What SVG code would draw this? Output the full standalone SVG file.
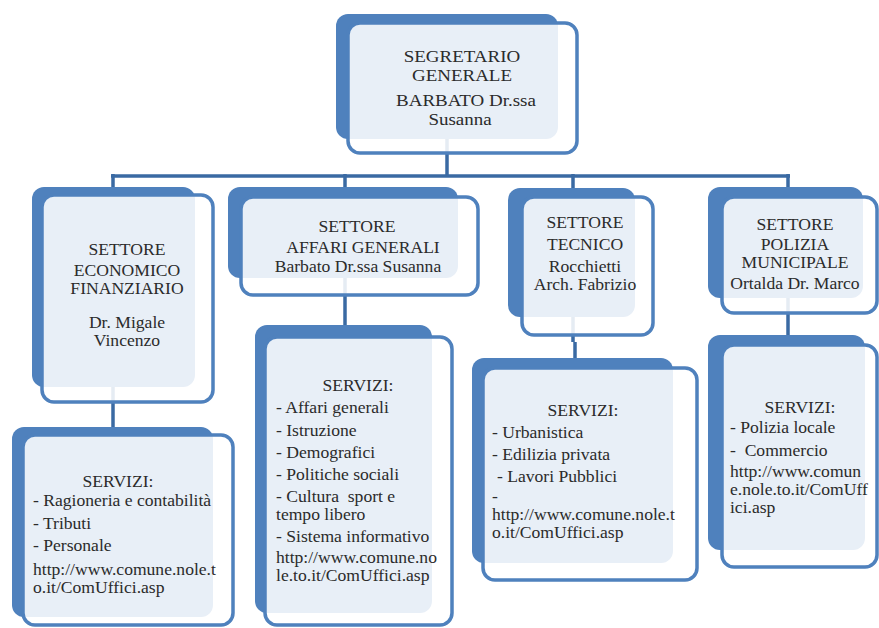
<svg xmlns="http://www.w3.org/2000/svg" width="879" height="628" viewBox="0 0 879 628">
<style>
.back{fill:#4f81bd;}
.front{fill:#ffffff;fill-opacity:0.87;stroke:#4f81bd;stroke-width:3.5;}
.conn{stroke:#3a6aa3;stroke-width:3.5;fill:none;}
text{font-family:"Liberation Serif","Times New Roman",serif;font-size:16px;fill:#2b2b2b;transform-box:fill-box;transform-origin:left center;transform:scaleX(1.1);}
text.c{text-anchor:middle;transform-origin:center;}
text.big{font-size:16.5px;transform:scaleX(1.15);}
</style>
<rect width="879" height="628" fill="#ffffff"/>
<g id="connectors">
<line class="conn" x1="447" y1="130" x2="447" y2="176"/>
<line class="conn" x1="111" y1="176" x2="790" y2="176"/>
<line class="conn" x1="113" y1="174" x2="113" y2="192"/>
<line class="conn" x1="345" y1="174" x2="345" y2="192"/>
<line class="conn" x1="573" y1="174" x2="573" y2="192"/>
<line class="conn" x1="788" y1="174" x2="788" y2="192"/>
<line class="conn" x1="113" y1="385" x2="113" y2="430"/>
<line class="conn" x1="345" y1="275" x2="345" y2="328"/>
<line class="conn" x1="573" y1="315" x2="573" y2="342"/>
<line class="conn" x1="575" y1="342" x2="575" y2="361"/>
<line class="conn" x1="788" y1="295" x2="788" y2="338"/>
</g>
<g id="segretario">
<rect class="back" x="336" y="14" width="222" height="125" rx="12"/>
<rect class="front" x="348" y="23" width="229" height="130" rx="12"/>
<text class="c big" x="462" y="62">SEGRETARIO</text>
<text class="c big" x="462" y="81">GENERALE</text>
<text class="c big" x="466" y="106">BARBATO Dr.ssa</text>
<text class="c big" x="460" y="125">Susanna</text>
</g>
<g id="settore-economico">
<rect class="back" x="32" y="187" width="163" height="200" rx="12"/>
<rect class="front" x="42" y="195" width="171" height="207" rx="12"/>
<text class="c" x="127" y="255">SETTORE</text>
<text class="c" x="127" y="276">ECONOMICO</text>
<text class="c" x="127" y="294">FINANZIARIO</text>
<text class="c" x="127" y="328">Dr. Migale</text>
<text class="c" x="127" y="346">Vincenzo</text>
</g>
<g id="servizi-economico">
<rect class="back" x="12" y="427" width="201" height="190" rx="12"/>
<rect class="front" x="23" y="435" width="210" height="190" rx="12"/>
<text class="c" x="118" y="487">SERVIZI:</text>
<text x="33" y="506">- Ragioneria e contabilità</text>
<text x="33" y="529">- Tributi</text>
<text x="33" y="551">- Personale</text>
<text x="33" y="575">http://www.comune.nole.t</text>
<text x="33" y="593">o.it/ComUffici.asp</text>
</g>
<g id="settore-affari">
<rect class="back" x="228" y="187" width="230" height="91" rx="12"/>
<rect class="front" x="241" y="197" width="237" height="98" rx="12"/>
<text class="c" x="357" y="232">SETTORE</text>
<text class="c" x="363" y="253">AFFARI GENERALI</text>
<text class="c" x="358" y="272">Barbato Dr.ssa Susanna</text>
</g>
<g id="servizi-affari">
<rect class="back" x="255" y="325" width="177" height="288" rx="12"/>
<rect class="front" x="265" y="337" width="187" height="288" rx="12"/>
<text class="c" x="358" y="391">SERVIZI:</text>
<text x="276" y="413">- Affari generali</text>
<text x="276" y="436">- Istruzione</text>
<text x="276" y="458">- Demografici</text>
<text x="276" y="480">- Politiche sociali</text>
<text x="276" y="502" xml:space="preserve">- Cultura  sport e</text>
<text x="276" y="520">tempo libero</text>
<text x="276" y="542">- Sistema informativo</text>
<text x="276" y="563">http://www.comune.no</text>
<text x="276" y="581">le.to.it/ComUffici.asp</text>
</g>
<g id="settore-tecnico">
<rect class="back" x="508" y="188" width="127" height="129" rx="12"/>
<rect class="front" x="522" y="197" width="131" height="138" rx="12"/>
<text class="c" x="585" y="228">SETTORE</text>
<text class="c" x="585" y="250">TECNICO</text>
<text class="c" x="585" y="272">Rocchietti</text>
<text class="c" x="585" y="290">Arch. Fabrizio</text>
</g>
<g id="servizi-tecnico">
<rect class="back" x="472" y="358" width="201" height="205" rx="12"/>
<rect class="front" x="483" y="368" width="214" height="212" rx="12"/>
<text class="c" x="583" y="416">SERVIZI:</text>
<text x="492" y="438">- Urbanistica</text>
<text x="492" y="460">- Edilizia privata</text>
<text x="497" y="482">- Lavori Pubblici</text>
<text x="492" y="502">-</text>
<text x="492" y="520">http://www.comune.nole.t</text>
<text x="492" y="538">o.it/ComUffici.asp</text>
</g>
<g id="settore-polizia">
<rect class="back" x="708" y="187" width="155" height="111" rx="12"/>
<rect class="front" x="722" y="197" width="155" height="116" rx="12"/>
<text class="c" x="795" y="230">SETTORE</text>
<text class="c" x="795" y="250">POLIZIA</text>
<text class="c" x="795" y="268">MUNICIPALE</text>
<text class="c" x="795" y="289">Ortalda Dr. Marco</text>
</g>
<g id="servizi-polizia">
<rect class="back" x="708" y="335" width="157" height="215" rx="12"/>
<rect class="front" x="722" y="345" width="155" height="222" rx="12"/>
<text class="c" x="800" y="413">SERVIZI:</text>
<text x="730" y="433">- Polizia locale</text>
<text x="730" y="456" xml:space="preserve">-  Commercio</text>
<text x="730" y="477">http://www.comun</text>
<text x="730" y="495">e.nole.to.it/ComUff</text>
<text x="730" y="513">ici.asp</text>
</g>
</svg>
